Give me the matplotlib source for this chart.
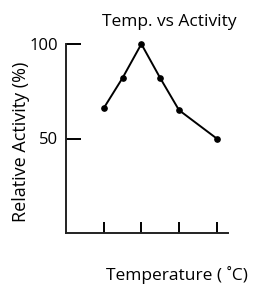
import matplotlib
matplotlib.use('Agg')
import matplotlib.pyplot as plt

temps = [10, 15, 20, 25, 30, 40]
activity = [66, 82, 100, 82, 65, 50]
xtick_pos = [10, 20, 30, 40]
ytick_pos = [50, 100]

plt.rcParams['font.family'] = ['Open Sans', 'DejaVu Sans']

fig = plt.figure(figsize=(2.54, 2.84), dpi=100)
ax = fig.add_axes([66 / 254, 1 - 233 / 284, 162 / 254, 189 / 284])

ax.plot(temps, activity, color='black', linewidth=1.4, marker='o', markersize=3.8, clip_on=False)

ax.set_xlim(0, 43)
ax.set_ylim(0, 100)
ax.set_xticks(xtick_pos)
ax.set_xticklabels([])
ax.set_yticks(ytick_pos)
ax.set_yticklabels(['50', '100'], fontsize=12)

for s in ['top', 'right']:
    ax.spines[s].set_visible(False)
for s in ['left', 'bottom']:
    ax.spines[s].set_linewidth(1.4)
    ax.spines[s].set_color('#222222')

ax.tick_params(axis='y', direction='in', length=11, width=1.4, pad=6)
ax.tick_params(axis='x', direction='in', length=8, width=1.4)

ax.set_title('Temp. vs Activity', fontsize=12.5, x=0.636, y=1.116, pad=0, va='center')
ax.set_xlabel('Temperature ( ˚C)', fontsize=12.5, va='center')
ax.xaxis.set_label_coords(0.685, -0.222)
ax.set_ylabel('Relative Activity (%)', fontsize=13, va='center')
ax.yaxis.set_label_coords(-0.28, 0.48)

fig.savefig('out.png', dpi=100)
